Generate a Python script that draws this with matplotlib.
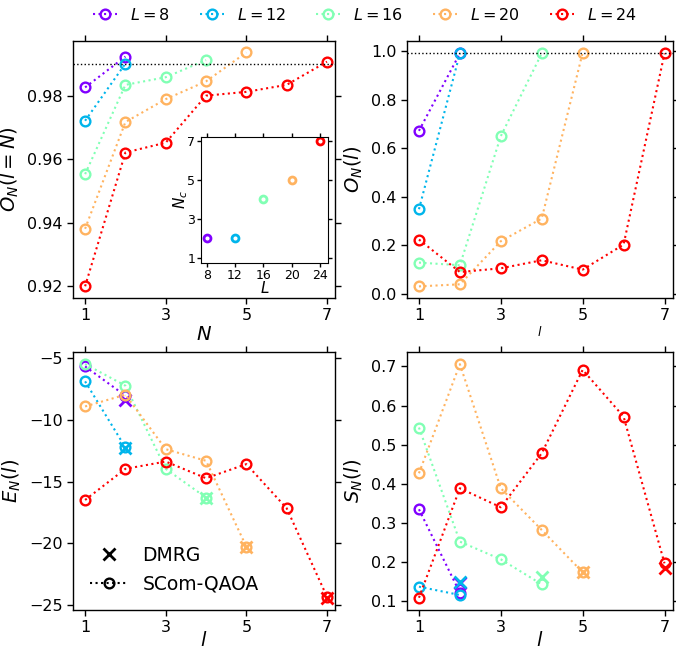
import numpy as np
import matplotlib
matplotlib.use("Agg")
import matplotlib.pyplot as plt
from matplotlib.lines import Line2D

L_values = [8, 12, 16, 20, 24]
Nc_values = [2, 2, 4, 5, 7]

# Top-left: O_N(l=N) vs N
ON_diag = {
    8: [0.9826, 0.9923],
    12: [0.9721, 0.9901],
    16: [0.9553, 0.9834, 0.9858, 0.9912],
    20: [0.9381, 0.9717, 0.9789, 0.9845, 0.9936],
    24: [0.9200, 0.9621, 0.9652, 0.9800, 0.9812, 0.9834, 0.9907],
}
# Top-right: O_N(l)
ON_l = {
    8: [0.671, 0.990],
    12: [0.348, 0.990],
    16: [0.128, 0.117, 0.649, 0.990],
    20: [0.030, 0.0385, 0.216, 0.3095, 0.993],
    24: [0.223, 0.089, 0.1045, 0.1376, 0.099, 0.202, 0.990],
}
# Bottom-left: E_N(l)
EN_l = {
    8: [-5.68, -8.05],
    12: [-6.89, -12.24],
    16: [-5.49, -7.24, -13.97, -16.30],
    20: [-8.92, -7.97, -12.38, -13.32, -20.27],
    24: [-16.49, -13.97, -13.38, -14.73, -13.59, -17.16, -24.32],
}
EN_dmrg = [-8.38, -12.30, -16.30, -20.30, -24.40]
# Bottom-right: S_N(l)
SN_l = {
    8: [0.3346, 0.1213],
    12: [0.1367, 0.1154],
    16: [0.5437, 0.2519, 0.2067, 0.1427],
    20: [0.4268, 0.7058, 0.3884, 0.2817, 0.1734],
    24: [0.1085, 0.3884, 0.3398, 0.4780, 0.6913, 0.5718, 0.1964],
}
SN_dmrg = [0.147, 0.1495, 0.162, 0.173, 0.1836]
threshold = 0.99

colors = plt.cm.rainbow(np.linspace(0, 1, len(L_values)))

fig = plt.figure(figsize=(6.76, 6.5), dpi=100)
axTL = fig.add_axes([0.108, 0.5415, 0.3876, 0.3954])
axTR = fig.add_axes([0.6016, 0.5415, 0.3935, 0.3954])
axBL = fig.add_axes([0.108, 0.0615, 0.3876, 0.397])
axBR = fig.add_axes([0.6016, 0.0615, 0.3935, 0.397])
axIn = fig.add_axes([0.2973, 0.595, 0.1879, 0.1948])

TICK = 11.5
LAB = 14
ms = 7
mew = 1.7
lw = 1.5

def style(ax):
    ax.tick_params(direction='out', top=True, right=True, labelsize=TICK,
                   length=4, width=1)
    for s in ax.spines.values():
        s.set_linewidth(1)

def plot_series(ax, data):
    for c, L in zip(colors, L_values):
        y = data[L]
        x = np.arange(1, len(y) + 1)
        ax.plot(x, y, ls=':', lw=lw, color=c, marker='o', ms=ms,
                mfc='none', mec=c, mew=mew)

# TL
plot_series(axTL, ON_diag)
axTL.axhline(threshold, color='black', ls=':', lw=1)
axTL.set_xlim(0.7, 7.2)
axTL.set_ylim(0.9163, 0.9972)
axTL.set_yticks([0.92, 0.94, 0.96, 0.98])
axTL.set_xticks([1, 3, 5, 7])
axTL.set_ylabel(r'$O_N(l=N)$', fontsize=LAB)
axTL.set_xlabel(r'$N$', fontsize=LAB, labelpad=1)
style(axTL)

# Inset
for c, L, nc in zip(colors, L_values, Nc_values):
    axIn.plot([L], [nc], ls='none', marker='o', ms=5, mfc='none', mec=c, mew=2)
axIn.set_xlim(7.2, 25.1)
axIn.set_ylim(0.71, 7.22)
axIn.set_xticks([8, 12, 16, 20, 24])
axIn.set_yticks([1, 3, 5, 7])
axIn.set_xlabel(r'$L$', fontsize=11, labelpad=-1)
axIn.set_ylabel(r'$N_c$', fontsize=11, labelpad=-2)
axIn.tick_params(direction='out', top=True, right=True, labelsize=9,
                 length=3, width=1, pad=1)

# TR
plot_series(axTR, ON_l)
axTR.axhline(threshold, color='black', ls=':', lw=1)
axTR.set_xlim(0.7, 7.2)
axTR.set_ylim(-0.018, 1.041)
axTR.set_yticks([0.0, 0.2, 0.4, 0.6, 0.8, 1.0])
axTR.set_xticks([1, 3, 5, 7])
axTR.set_ylabel(r'$O_N(l)$', fontsize=LAB)
axTR.set_xlabel(r'$l$', fontsize=9, labelpad=1)
style(axTR)

# BL
for c, nc, e in zip(colors, Nc_values, EN_dmrg):
    axBL.plot([nc], [e], ls='none', marker='x', ms=9, mew=2, color=c)
plot_series(axBL, EN_l)
axBL.set_xlim(0.7, 7.2)
axBL.set_ylim(-25.4, -4.51)
axBL.set_yticks([-5, -10, -15, -20, -25])
axBL.set_xticks([1, 3, 5, 7])
axBL.set_ylabel(r'$E_N(l)$', fontsize=LAB)
axBL.set_xlabel(r'$l$', fontsize=LAB, labelpad=-3.5)
style(axBL)
h1 = Line2D([], [], ls='none', marker='x', color='black', ms=9, mew=2)
h2 = Line2D([], [], ls=':', lw=lw, color='black', marker='o', ms=ms,
            mfc='none', mec='black', mew=mew)
axBL.legend([h1, h2], ['DMRG', 'SCom-QAOA'], loc='lower left', frameon=False,
            fontsize=13.5, bbox_to_anchor=(0.0, 0.0), handlelength=2.0)

# BR
for c, nc, s in zip(colors, Nc_values, SN_dmrg):
    axBR.plot([nc], [s], ls='none', marker='x', ms=9, mew=2, color=c)
plot_series(axBR, SN_l)
axBR.set_xlim(0.7, 7.2)
axBR.set_ylim(0.077, 0.737)
axBR.set_yticks([0.1, 0.2, 0.3, 0.4, 0.5, 0.6, 0.7])
axBR.set_xticks([1, 3, 5, 7])
axBR.set_ylabel(r'$S_N(l)$', fontsize=LAB)
axBR.set_xlabel(r'$l$', fontsize=LAB, labelpad=-3.5)
style(axBR)

# Top legend
handles = [Line2D([], [], ls=':', lw=lw, color=c, marker='o', ms=ms,
                  mfc='none', mec=c, mew=mew) for c in colors]
labels = [rf'$L={L}$' for L in L_values]
fig.legend(handles, labels, loc='upper center', bbox_to_anchor=(0.54, 1.012),
           ncol=5, frameon=False, fontsize=11.5, handlelength=1.5,
           columnspacing=1.9, handletextpad=0.8)

fig.savefig('out.png', dpi=100)
